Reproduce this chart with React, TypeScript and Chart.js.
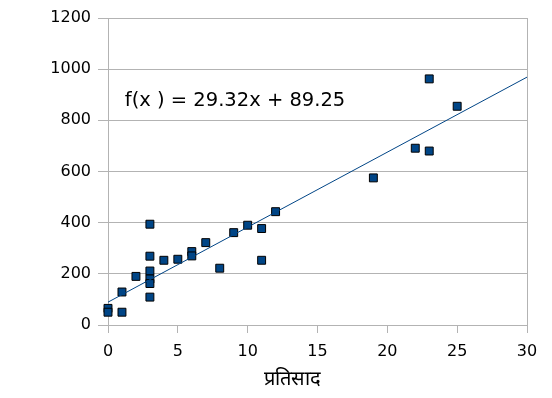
import React, { useEffect, useRef } from "react";
import { Chart, registerables } from "chart.js";

Chart.register(...registerables);

const xValues = [0, 0, 1, 1, 2, 3, 3, 3, 3, 3, 3, 4, 5, 6, 6, 7, 8, 9, 10, 11, 11, 12, 19, 22, 23, 23, 25];
const yValues = [65, 50, 50, 129, 190, 394, 269, 211, 180, 162, 109, 253, 257, 287, 270, 322, 222, 361, 390, 377, 253, 443, 575, 691, 680, 962, 855];
const SLOPE = 29.32;
const INTERCEPT = 89.25;
const EQUATION = "f(x ) = 29.32x + 89.25";
const X_TITLE = "प्रतिसाद";
const X_MIN = 0;
const X_MAX = 30;
const Y_MIN = 0;
const Y_MAX = 1200;

const COLOR = "#004586";
const GRID = "#b3b3b3";
const TICK_FONT = { family: "'DejaVu Sans', sans-serif", size: 16 };

export default function App() {
  const ref = useRef<HTMLCanvasElement>(null);
  useEffect(() => {
    if (!ref.current) return;
    const points = xValues.map((x, i) => ({ x, y: yValues[i] }));
    const trend = [
      { x: X_MIN, y: SLOPE * X_MIN + INTERCEPT },
      { x: X_MAX, y: SLOPE * X_MAX + INTERCEPT },
    ];
    const labelPlugin = {
      id: "labels",
      afterDraw(chart: any) {
        const { ctx, chartArea, scales } = chart;
        ctx.save();
        ctx.fillStyle = "#000";
        ctx.font = "19.5px 'DejaVu Sans', sans-serif";
        ctx.textBaseline = "middle";
        ctx.textAlign = "left";
        ctx.fillText(EQUATION, scales.x.getPixelForValue(1.2), scales.y.getPixelForValue(877));
        ctx.font = "20px serif";
        ctx.textAlign = "center";
        ctx.fillText(X_TITLE, chartArea.left + (chartArea.right - chartArea.left) * 0.44, chartArea.bottom + 55);
        ctx.restore();
      },
    };
    const chart = new Chart(ref.current, {
      type: "scatter",
      data: {
        datasets: [
          {
            type: "line",
            data: trend,
            borderColor: COLOR,
            borderWidth: 1,
            pointRadius: 0,
            fill: false,
          } as any,
          {
            data: points,
            pointStyle: "rect",
            pointRadius: 5.6,
            backgroundColor: COLOR,
            borderColor: "#000",
            borderWidth: 1,
            clip: false,
          } as any,
        ],
      },
      plugins: [labelPlugin],
      options: {
        animation: false,
        responsive: false,
        maintainAspectRatio: false,
        layout: { padding: { left: 0, right: 25, top: 18, bottom: 0 } },
        plugins: { legend: { display: false }, tooltip: { enabled: false } },
        scales: {
          x: {
            type: "linear",
            min: X_MIN,
            max: X_MAX,
            afterFit(scale: any) {
              scale.height = 73;
            },
            ticks: {
              stepSize: 5,
              color: "#000",
              padding: 9,
              font: TICK_FONT,
              callback: (v: any) => String(v),
            },
            grid: {
              color: (c: any) => (c.index === 0 || c.tick?.value === X_MAX ? GRID : "rgba(0,0,0,0)"),
              tickColor: GRID,
              tickLength: 8,
              lineWidth: 1,
            },
            border: { display: false },
          },
          y: {
            min: Y_MIN,
            max: Y_MAX,
            afterFit(scale: any) {
              scale.width = 108;
            },
            ticks: {
              stepSize: 200,
              color: "#000",
              padding: 7,
              font: TICK_FONT,
              callback: (v: any) => String(v),
            },
            grid: { color: GRID, tickColor: GRID, tickLength: 10, lineWidth: 1 },
            border: { display: false },
          },
        },
      },
    });
    return () => chart.destroy();
  }, []);
  return (
    <div style={{ position: "fixed", left: 0, top: 0, width: 552, height: 398, background: "#fff" }}>
      <canvas ref={ref} width={552} height={398} style={{ width: 552, height: 398 }} />
    </div>
  );
}
